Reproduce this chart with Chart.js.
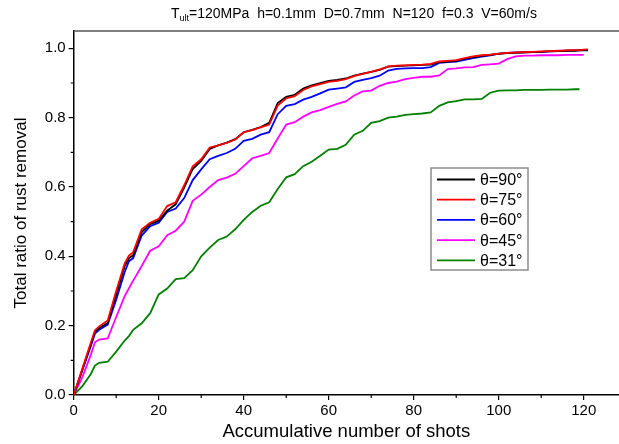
<!DOCTYPE html>
<html>
<head>
<meta charset="utf-8" />
<title>Total ratio of rust removal</title>
<script src="https://cdn.jsdelivr.net/npm/chart.js@4.4.0/dist/chart.umd.min.js"></script>
<style>
    html, body { margin: 0; padding: 0; background: #fff; }
    #dvChart { position: relative; width: 619px; height: 444px; }
</style>
</head>
<body>
<div id="dvChart"><canvas id="chtRust" width="619" height="444"></canvas></div>

<script>
// shots (x) shared by every curve
const shots = [0, 2, 4, 5, 6, 8, 10, 12, 13, 14,
    16, 18, 20, 22, 24, 26, 28, 30, 32, 34, 36, 38, 40, 42, 44, 46, 48, 50,
    52, 54, 56, 58, 60, 62, 64, 66, 68, 70, 72, 74, 76, 78, 80, 82, 84, 86,
    88, 90, 92, 94, 96, 98, 100, 102, 104, 106, 108, 110, 112, 114, 116, 118,
    119, 120, 121];

const theta90 = [0, 0.072, 0.145, 0.182, 0.193, 0.208, 0.290, 0.372, 0.395, 0.403,
    0.470, 0.493, 0.503, 0.532, 0.550, 0.598, 0.652, 0.675, 0.710, 0.720, 0.728, 0.738, 0.758, 0.765, 0.773, 0.785, 0.842, 0.860,
    0.866, 0.884, 0.893, 0.900, 0.906, 0.909, 0.913, 0.921, 0.927, 0.932, 0.938, 0.947, 0.949, 0.950, 0.951, 0.952, 0.953, 0.960,
    0.962, 0.964, 0.970, 0.975, 0.978, 0.981, 0.984, 0.986, 0.987, 0.988, 0.989, 0.990, 0.991, 0.992, 0.993, 0.993,
    0.994, 0.994, 0.994];

const theta75 = [0, 0.075, 0.150, 0.187, 0.198, 0.215, 0.300, 0.380, 0.402, 0.412,
    0.478, 0.497, 0.508, 0.545, 0.556, 0.605, 0.660, 0.680, 0.714, 0.720, 0.727, 0.737, 0.758, 0.764, 0.772, 0.780, 0.835, 0.856,
    0.862, 0.880, 0.890, 0.897, 0.903, 0.906, 0.911, 0.920, 0.926, 0.932, 0.939, 0.948, 0.950, 0.951, 0.952, 0.953, 0.955, 0.962,
    0.964, 0.966, 0.972, 0.977, 0.980, 0.982, 0.985, 0.987, 0.988, 0.989, 0.990, 0.991, 0.992, 0.993, 0.994, 0.995,
    0.995, 0.996, 0.997];

const theta60 = [0, 0.070, 0.140, 0.177, 0.188, 0.203, 0.275, 0.355, 0.386, 0.395,
    0.460, 0.487, 0.497, 0.528, 0.538, 0.568, 0.620, 0.651, 0.680, 0.690, 0.698, 0.710, 0.733, 0.739, 0.751, 0.758, 0.810, 0.834,
    0.839, 0.852, 0.860, 0.870, 0.881, 0.884, 0.887, 0.903, 0.909, 0.914, 0.921, 0.936, 0.941, 0.942, 0.943, 0.943, 0.946, 0.958,
    0.960, 0.962, 0.967, 0.972, 0.976, 0.980, 0.985, 0.987, 0.988, 0.989, 0.990, 0.990, 0.991, 0.992, 0.993, 0.994,
    0.994, 0.995, 0.995];

const theta45 = [0, 0.050, 0.115, 0.152, 0.160, 0.163, 0.225, 0.285, 0.308, 0.330,
    0.372, 0.416, 0.429, 0.461, 0.474, 0.500, 0.560, 0.578, 0.600, 0.620, 0.627, 0.638, 0.660, 0.683, 0.690, 0.698, 0.740, 0.780,
    0.787, 0.803, 0.815, 0.822, 0.831, 0.840, 0.847, 0.864, 0.876, 0.878, 0.892, 0.900, 0.904, 0.911, 0.915, 0.918, 0.918, 0.922,
    0.940, 0.942, 0.945, 0.946, 0.952, 0.954, 0.956, 0.969, 0.977, 0.979, 0.979, 0.980, 0.980, 0.980, 0.981, 0.981,
    0.981, 0.981, null];

const theta31 = [0, 0.025, 0.060, 0.085, 0.093, 0.096, 0.125, 0.157, 0.170, 0.188,
    0.207, 0.236, 0.290, 0.307, 0.334, 0.337, 0.360, 0.400, 0.425, 0.447, 0.457, 0.478, 0.505, 0.528, 0.546, 0.556, 0.594, 0.628,
    0.637, 0.660, 0.673, 0.690, 0.708, 0.710, 0.722, 0.751, 0.762, 0.785, 0.790, 0.800, 0.803, 0.808, 0.810, 0.812, 0.815, 0.834,
    0.844, 0.848, 0.853, 0.853, 0.854, 0.872, 0.878, 0.879, 0.879, 0.880, 0.880, 0.880, 0.881, 0.881, 0.881, 0.882,
    0.882, null, null];

const seriesLabels = ['θ=90°', 'θ=75°', 'θ=60°', 'θ=45°', 'θ=31°'];
const seriesColors = ['#000000', '#ff0000', '#0000ff', '#ff00ff', '#008000'];
const seriesValues = [theta90, theta75, theta60, theta45, theta31];
const drawOrder = [1, 0, 2, 3, 4]; // red on top, like the original

// tick marks
const xMajorTicks = [0, 20, 40, 60, 80, 100, 120];
const xMinorTicks = [10, 30, 50, 70, 90, 110];
const yMajorTicks = [0, 0.2, 0.4, 0.6, 0.8, 1.0];
const yMinorTicks = [0.1, 0.3, 0.5, 0.7, 0.9];

const titleMain = 'T';
const titleSub = 'ult';
const titleRest = '=120MPa  h=0.1mm  D=0.7mm  N=120  f=0.3  V=60m/s';
const xTitle = 'Accumulative number of shots';
const yTitle = 'Total ratio of rust removal';

const FONT = "'Liberation Sans', Arial, sans-serif";

function toPoints(values) {
    const pts = [];
    values.forEach((v, i) => {
        if (v === null || v === undefined) return;
        pts.push({ x: shots[i], y: v });
    });
    return pts;
}

// title with subscript, top frame line and short minor ticks
const framePlugin = {
    id: 'frameExtras',
    afterDraw(chart) {
        const ctx = chart.ctx;
        const a = chart.chartArea;
        ctx.save();
        ctx.fillStyle = '#000';
        ctx.textBaseline = 'alphabetic';
        let x = 171, y = 18;
        ctx.font = '14px ' + FONT;
        ctx.fillText(titleMain, x, y);
        x += ctx.measureText(titleMain).width;
        ctx.font = '9px ' + FONT;
        ctx.fillText(titleSub, x, y + 3);
        x += ctx.measureText(titleSub).width;
        ctx.font = '14px ' + FONT;
        ctx.fillText(titleRest, x, y);

        ctx.strokeStyle = '#555';
        ctx.lineWidth = 1.5;
        ctx.beginPath();
        ctx.moveTo(a.left, a.top);
        ctx.lineTo(a.right, a.top);
        ctx.stroke();

        ctx.strokeStyle = '#000';
        ctx.lineWidth = 1.2;
        ctx.beginPath();
        xMinorTicks.forEach(v => {
            const px = chart.scales.x.getPixelForValue(v);
            ctx.moveTo(px, a.bottom);
            ctx.lineTo(px, a.bottom + 3);
        });
        yMinorTicks.forEach(v => {
            const py = chart.scales.y.getPixelForValue(v);
            ctx.moveTo(a.left, py);
            ctx.lineTo(a.left - 3, py);
        });
        ctx.stroke();
        ctx.restore();
    }
};

// boxed legend inside the plot
const legendPlugin = {
    id: 'boxLegend',
    afterDraw(chart) {
        const ctx = chart.ctx;
        const bx = 431, by = 168, bw = 97, bh = 102;
        ctx.save();
        ctx.fillStyle = '#fff';
        ctx.fillRect(bx, by, bw, bh);
        ctx.strokeStyle = '#8c8c8c';
        ctx.lineWidth = 1.5;
        ctx.strokeRect(bx, by, bw, bh);
        ctx.font = '16px ' + FONT;
        ctx.textBaseline = 'middle';
        chart.data.datasets.forEach((ds, i) => {
            const y = by + 11.5 + i * 20.2;
            ctx.strokeStyle = ds.borderColor;
            ctx.lineWidth = 1.8;
            ctx.beginPath();
            ctx.moveTo(437, y);
            ctx.lineTo(475, y);
            ctx.stroke();
            ctx.fillStyle = '#000';
            ctx.fillText(ds.label, 480, y + 1);
        });
        ctx.restore();
    }
};

document.addEventListener('DOMContentLoaded', function () {
    const ctx = document.getElementById('chtRust').getContext('2d');

    const datasets = seriesLabels.map((lbl, i) => ({
        label: lbl,
        data: toPoints(seriesValues[i]),
        borderColor: seriesColors[i],
        backgroundColor: seriesColors[i],
        borderWidth: 1.8,
        pointRadius: 0,
        tension: 0,
        fill: false,
        order: drawOrder[i]
    }));

    new Chart(ctx, {
        type: 'line',
        data: { datasets: datasets },
        options: {
            responsive: false,
            animation: false,
            devicePixelRatio: 1,
            layout: { padding: { top: 31, right: 0, bottom: 0, left: 0 } },
            plugins: {
                legend: { display: false },
                tooltip: { enabled: false }
            },
            scales: {
                x: {
                    type: 'linear',
                    min: 0,
                    max: 128.3,
                    afterFit: s => { s.height = 49; },
                    afterBuildTicks: s => { s.ticks = xMajorTicks.map(v => ({ value: v })); },
                    ticks: {
                        autoSkip: false,
                        maxRotation: 0,
                        padding: 2,
                        color: '#000',
                        font: { family: FONT, size: 15 },
                        callback: v => String(v)
                    },
                    grid: { drawOnChartArea: false, drawTicks: true, tickLength: 5, color: '#000', lineWidth: 1.2 },
                    border: { color: '#000', width: 1.5 },
                    title: {
                        display: true,
                        text: xTitle,
                        color: '#000',
                        font: { family: FONT, size: 18.5 },
                        padding: { top: 0, bottom: 1 }
                    }
                },
                y: {
                    min: 0,
                    max: 1.05,
                    afterFit: s => { s.width = 73.7; },
                    afterBuildTicks: s => { s.ticks = yMajorTicks.map(v => ({ value: v })); },
                    ticks: {
                        autoSkip: false,
                        padding: 3,
                        color: '#000',
                        font: { family: FONT, size: 15 },
                        callback: v => Number(v).toFixed(1)
                    },
                    grid: { drawOnChartArea: false, drawTicks: true, tickLength: 5, color: '#000', lineWidth: 1.2 },
                    border: { color: '#000', width: 1.5 },
                    title: {
                        display: true,
                        text: yTitle,
                        color: '#000',
                        font: { family: FONT, size: 17 },
                        padding: { top: 11, bottom: 0 }
                    }
                }
            }
        },
        plugins: [framePlugin, legendPlugin]
    });
});
</script>
</body>
</html>
